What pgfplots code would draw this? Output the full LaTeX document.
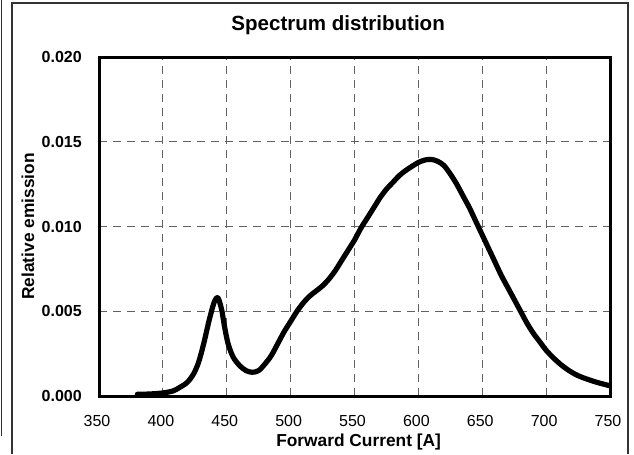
\documentclass[border=0pt]{standalone}
\usepackage{pgfplots}
\pgfplotsset{compat=1.18}
\usepackage{fontspec}
\setmainfont{Liberation Sans}
\begin{document}
\begin{tikzpicture}
\useasboundingbox (0,0) rectangle (475.5pt,340.5pt);
\draw[line width=0.9pt, black!80] (9pt,0pt) -- (9pt,338.25pt) -- (471pt,338.25pt) -- (471pt,0pt);
\draw[line width=0.75pt, black!80] (0.75pt,340.5pt) -- (0.75pt,13.5pt);
\begin{axis}[
  at={(74.25pt,43.5pt)}, anchor=south west,
  scale only axis, width=383.25pt, height=254.25pt,
  xmin=350, xmax=750, ymin=0, ymax=0.02,
  xtick={350,400,...,750},
  ytick={0,0.005,0.01,0.015,0.02},
  scaled y ticks=false,
  /pgf/number format/assume math mode=true,
  yticklabel style={/pgf/number format/.cd, fixed, fixed zerofill, precision=3, /tikz/.cd,
    anchor=east, inner sep=0pt, xshift=-12.75pt, font=\fontsize{12}{14}\selectfont\bfseries},
  xticklabel style={anchor=base, inner sep=0pt, yshift=-23pt, xshift=-1.5pt,
    font=\fontsize{12}{14}\selectfont},
  major tick length=0pt,
  axis line style={line width=2.25pt},
  grid=major,
  major grid style={line width=0.75pt, color=black!62, dash pattern=on 6pt off 4.5pt},
  title={Spectrum distribution},
  title style={at={(0.468,1.0796)}, anchor=base, yshift=-6pt, font=\fontsize{15.4}{18}\selectfont\bfseries},
  xlabel={Forward Current [A]},
  xlabel style={at={(0.508,-0.1496)}, anchor=base, font=\fontsize{13}{15}\selectfont\bfseries},
  ylabel={Relative emission},
  ylabel style={at={(-0.139,0.5)}, anchor=center, font=\fontsize{13}{15}\selectfont\bfseries},
]
\addplot[black, line width=3.9pt, smooth, line join=round, line cap=round] coordinates {
(380,0.0001) (390,0.00012) (400,0.00018) (408,0.0003) (413,0.0005) (419,0.0008)
(424,0.0013) (428,0.002) (432,0.0031) (436,0.0044) (440,0.0055) (443,0.0058)
(446,0.0051) (448,0.0042) (451,0.0031) (455,0.0023) (460,0.0018) (465,0.0015)
(470,0.0014) (475,0.0015) (480,0.0019) (485,0.0024) (490,0.0031) (495,0.0038)
(500,0.0044) (505,0.0050) (510,0.0055) (515,0.0059) (520,0.0062) (525,0.0065)
(530,0.0069) (535,0.0074) (540,0.0080) (545,0.0086) (550,0.0092) (555,0.0099)
(560,0.0105) (565,0.0111) (570,0.0117) (575,0.0122) (580,0.0126) (585,0.0130)
(590,0.0133) (595,0.01355) (600,0.01378) (605,0.01392) (610,0.01396) (615,0.01385)
(620,0.0136) (625,0.0131) (630,0.0125) (635,0.0118) (640,0.0111) (645,0.0103)
(650,0.0095) (655,0.0087) (660,0.0079) (665,0.0071) (670,0.0064) (675,0.0057)
(680,0.0050) (685,0.0043) (690,0.0037) (695,0.0032) (700,0.0027) (705,0.0023)
(710,0.00195) (715,0.00165) (720,0.0014) (725,0.0012) (730,0.00105) (735,0.00092)
(740,0.0008) (745,0.0007) (750,0.0006)
};
\end{axis}
\end{tikzpicture}
\end{document}
